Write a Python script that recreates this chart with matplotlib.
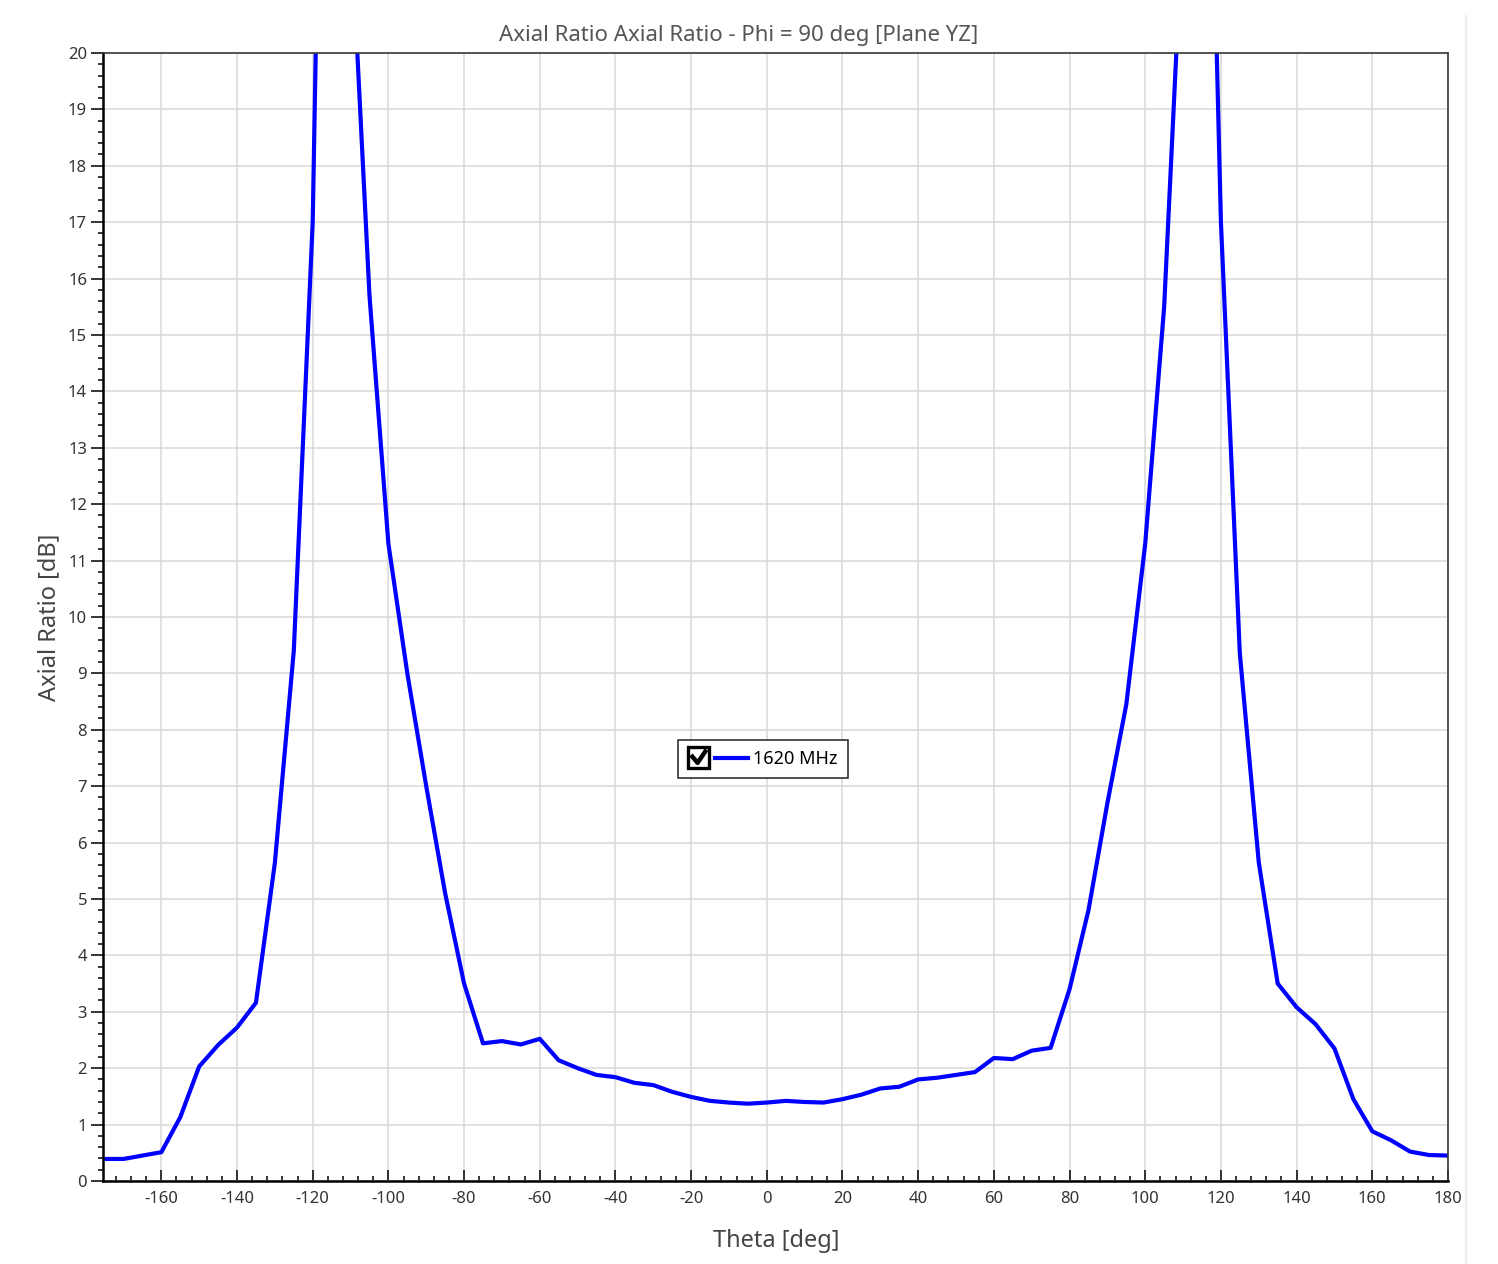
import matplotlib
matplotlib.use('Agg')
import matplotlib.pyplot as plt
from matplotlib.lines import Line2D
from matplotlib.patches import Rectangle
from matplotlib.legend_handler import HandlerBase
from matplotlib.ticker import MultipleLocator

plt.rcParams['font.family'] = ['Noto Sans', 'DejaVu Sans']
plt.rcParams['axes.unicode_minus'] = False

# theta [deg], 5 deg steps
theta = [-175, -170, -165, -160, -155, -150, -145, -140, -135, -130,
         -125, -120, -115, -110, -105, -100, -95, -90, -85, -80,
         -75, -70, -65, -60, -55, -50, -45, -40, -35, -30,
         -25, -20, -15, -10, -5, 0, 5, 10, 15, 20,
         25, 30, 35, 40, 45, 50, 55, 60, 65, 70,
         75, 80, 85, 90, 95, 100, 105, 110, 115, 120,
         125, 130, 135, 140, 145, 150, 155, 160, 165, 170,
         175, 180]

# axial ratio [dB] at 1620 MHz
axial_ratio = [0.39, 0.39, 0.45, 0.51, 1.13, 2.03, 2.41, 2.72, 3.16, 5.64,
               9.4, 17.0, 35.8, 22.4, 15.7, 11.3, 9.0, 7.0, 5.1, 3.5,
               2.44, 2.48, 2.42, 2.52, 2.14, 2.0, 1.88, 1.84, 1.74, 1.70,
               1.58, 1.49, 1.42, 1.39, 1.37, 1.39, 1.42, 1.40, 1.39, 1.45,
               1.53, 1.64, 1.67, 1.80, 1.83, 1.88, 1.93, 2.18, 2.16, 2.31,
               2.36, 3.4, 4.8, 6.7, 8.45, 11.3, 15.5, 22.5, 30.6, 17.0,
               9.35, 5.65, 3.5, 3.08, 2.78, 2.35, 1.45, 0.88, 0.72, 0.52,
               0.46, 0.45]

series_label = '1620 MHz'
x_ticks = [-160, -140, -120, -100, -80, -60, -40, -20, 0, 20,
           40, 60, 80, 100, 120, 140, 160, 180]
y_ticks = list(range(0, 21))


class CheckedLineHandler(HandlerBase):
    # legend key with a ticked checkbox in front of the line
    def create_artists(self, legend, orig_handle, xdescent, ydescent,
                       width, height, fontsize, trans):
        x0 = -xdescent
        cy = -ydescent + height / 2
        s = 1.15 * fontsize
        box = Rectangle((x0, cy - s / 2), s, s, facecolor='white',
                        edgecolor='black', lw=2.4, transform=trans)
        tick = Line2D([x0 + 0.2 * s, x0 + 0.45 * s, x0 + 0.82 * s],
                      [cy + 0.05 * s, cy - 0.25 * s, cy + 0.3 * s],
                      color='black', lw=3.2, transform=trans)
        line = Line2D([x0 + s + 0.35 * fontsize, x0 + width], [cy, cy],
                      color=orig_handle.get_color(),
                      lw=orig_handle.get_linewidth(), transform=trans)
        return [box, tick, line]


fig = plt.figure(figsize=(14.98, 12.64), dpi=100)
ax = fig.add_axes([0.0688, 0.0657, 0.8978, 0.8924])

line, = ax.plot(theta, axial_ratio, color='#0000ff', lw=3, label=series_label)

ax.set_xlim(-175.4, 180)
ax.set_ylim(0, 20)
ax.set_xticks(x_ticks)
ax.set_yticks(y_ticks)
ax.xaxis.set_minor_locator(MultipleLocator(4))
ax.yaxis.set_minor_locator(MultipleLocator(0.2))
ax.grid(True, which='major', color='#d9d9d9', lw=1.1)
ax.set_axisbelow(True)

ax.tick_params(axis='x', which='major', direction='in', length=8, width=1.1,
               pad=7, labelsize=12, labelcolor='#333333')
ax.tick_params(axis='x', which='minor', direction='in', length=3.6, width=1.1)
ax.tick_params(axis='y', which='major', direction='out', length=8.5, width=1.1,
               pad=3, labelsize=12, labelcolor='#333333')
ax.tick_params(axis='y', which='minor', direction='out', length=3.6, width=1.1)

for side in ['left', 'bottom']:
    ax.spines[side].set_color('black')
    ax.spines[side].set_linewidth(1.8)
for side in ['top', 'right']:
    ax.spines[side].set_color('#3a3a3a')
    ax.spines[side].set_linewidth(1.2)

fig.text(739 / 1498, 1 - 36 / 1264, 'Axial Ratio Axial Ratio - Phi = 90 deg [Plane YZ]',
         ha='center', va='center', fontsize=16, color='#555555')
fig.text(776 / 1498, 1 - 1241 / 1264, 'Theta [deg]', ha='center', va='center',
         fontsize=17, color='#444444')
fig.text(49 / 1498, 1 - 617 / 1264, 'Axial Ratio [dB]', ha='center', va='center',
         rotation=90, fontsize=17, color='#444444')

leg = ax.legend(handles=[line], labels=[series_label],
                handler_map={Line2D: CheckedLineHandler()},
                loc='center', bbox_to_anchor=(763 / 1498, 1 - 759 / 1264),
                bbox_transform=fig.transFigure, fontsize=13,
                handlelength=3.3, handletextpad=0.3, borderpad=0.55,
                fancybox=False, framealpha=1, edgecolor='#222222')
leg.get_frame().set_linewidth(1.1)

# faint border on the right of the panel
fig.add_artist(Line2D([1466 / 1498, 1466 / 1498], [0, 1 - 16 / 1264],
                      color='#ececec', lw=1.5, transform=fig.transFigure))

fig.savefig('out.png', dpi=100)
